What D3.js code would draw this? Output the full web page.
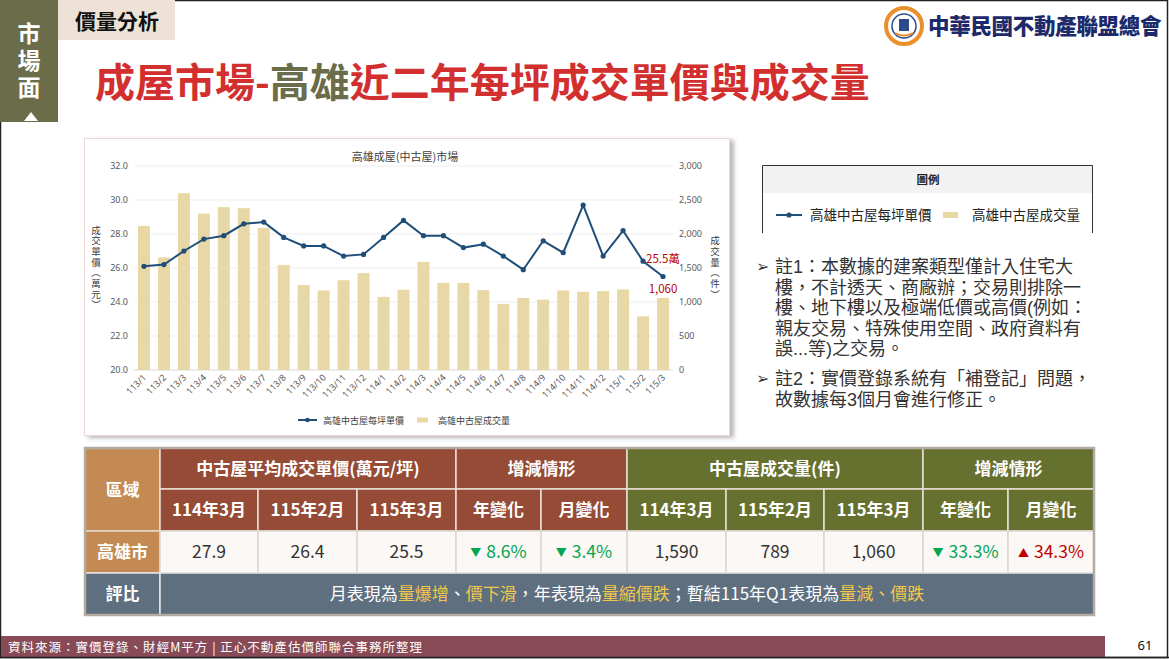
<!DOCTYPE html>
<html>
<head>
<meta charset="utf-8">
<script src="https://cdn.jsdelivr.net/npm/d3@7/dist/d3.min.js"></script>
<style>
  html, body { margin: 0; padding: 0; background: #fff; }
  svg { display: block; font-family: "Noto Sans CJK TC", "Noto Sans", sans-serif; }
  .vert { writing-mode: vertical-rl; text-orientation: upright; }
</style>
</head>
<body>
<svg id="slide" width="1169" height="659"></svg>
<script>
// monthly data
var months = ['113/1','113/2','113/3','113/4','113/5','113/6','113/7','113/8','113/9','113/10','113/11','113/12',
              '114/1','114/2','114/3','114/4','114/5','114/6','114/7','114/8','114/9','114/10','114/11','114/12',
              '115/1','115/2','115/3'];
var unitPrice = [26.1, 26.2, 27.0, 27.7, 27.9, 28.6, 28.7, 27.8, 27.3, 27.3, 26.7, 26.8,
                 27.8, 28.8, 27.9, 27.9, 27.2, 27.4, 26.7, 25.9, 27.6, 26.9, 29.7, 26.7,
                 28.2, 26.4, 25.5];
var volume = [2120, 1655, 2600, 2300, 2395, 2380, 2090, 1545, 1250, 1170, 1320, 1425,
              1075, 1180, 1590, 1280, 1280, 1175, 970, 1060, 1035, 1170, 1150, 1160,
              1185, 789, 1060];
var priceTicks = [20, 22, 24, 26, 28, 30, 32];
var volumeTicks = [0, 500, 1000, 1500, 2000, 2500, 3000];

// table: which months are compared
var compareLabels = ['114年3月', '115年2月', '115年3月'];
var compareIdx = [14, 25, 26];
var seriesNames = ['高雄中古屋每坪單價', '高雄中古屋成交量'];
var notes = [
  ['註1：本數據的建案類型僅計入住宅大', '樓，不計透天、商廠辦；交易則排除一', '樓、地下樓以及極端低價或高價(例如：',
   '親友交易、特殊使用空間、政府資料有', '誤...等)之交易。'],
  ['註2：實價登錄系統有「補登記」問題，', '故數據每3個月會進行修正。']
];

var C = {
  bar: '#e8d8a6', line: '#1f4e79', red: '#c00000', green: '#00a651',
  brown: '#954b35', olive: '#66702f', tan: '#c38a53', slate: '#5e6f80',
  side: '#6b6d4a', hilite: '#f3c84a', footer: '#874a56'
};

var svg = d3.select('#slide');

// ---------- slide frame / header ----------
svg.append('rect').attr('x', 0.5).attr('y', 0.5).attr('width', 1167).attr('height', 657)
  .attr('fill', '#fff').attr('stroke', '#222').attr('stroke-width', 1.5);

svg.append('rect').attr('x', 0).attr('y', 0).attr('width', 58).attr('height', 122).attr('fill', C.side);
svg.append('text').attr('class', 'vert').attr('x', 29).attr('y', 62).attr('text-anchor', 'middle')
  .attr('font-size', 23).attr('font-weight', 700).attr('fill', '#fff').attr('letter-spacing', 4).text('市場面');
svg.append('path').attr('d', 'M24,121 L31,112 L38,121 Z').attr('fill', '#fff');

svg.append('rect').attr('x', 58).attr('y', 0).attr('width', 117).attr('height', 40).attr('fill', '#ede2d5');
svg.append('text').attr('x', 75).attr('y', 29).attr('font-size', 21).attr('font-weight', 700)
  .attr('fill', '#111').text('價量分析');

var title = svg.append('text').attr('x', 95).attr('y', 97).attr('font-size', 40).attr('font-weight', 700);
title.append('tspan').attr('fill', '#d22f2f').text('成屋市場-');
title.append('tspan').attr('fill', C.side).text('高雄');
title.append('tspan').attr('fill', '#d22f2f').text('近二年每坪成交單價與成交量');

// logo
var logo = svg.append('g').attr('transform', 'translate(904,26)');
logo.append('circle').attr('r', 18).attr('fill', '#fff').attr('stroke', '#e98f2b').attr('stroke-width', 4);
logo.append('circle').attr('r', 12).attr('fill', '#fff').attr('stroke', '#2d4a8a').attr('stroke-width', 1.5);
logo.append('rect').attr('x', -5).attr('y', -7).attr('width', 10).attr('height', 12).attr('fill', '#2d4a8a');
logo.append('path').attr('d', 'M-9,7 Q0,12 9,7').attr('fill', 'none').attr('stroke', '#e98f2b').attr('stroke-width', 2);
svg.append('text').attr('x', 928).attr('y', 34).attr('font-size', 21.5).attr('font-weight', 900)
  .attr('fill', '#1c2a6b').attr('letter-spacing', -0.3).text('中華民國不動產聯盟總會');

// ---------- chart ----------
var defs = svg.append('defs');
var sh = defs.append('filter').attr('id', 'shadow').attr('x', '-5%').attr('y', '-5%').attr('width', '115%').attr('height', '115%');
sh.append('feDropShadow').attr('dx', 4).attr('dy', 2).attr('stdDeviation', 2).attr('flood-color', '#888').attr('flood-opacity', 0.6);

svg.append('rect').attr('x', 84.5).attr('y', 138.5).attr('width', 645).attr('height', 297)
  .attr('fill', '#fff').attr('stroke', '#f1d6d6').attr('filter', 'url(#shadow)');

var plot = { left: 134, right: 673, top: 166, bottom: 370 };

var x = d3.scaleBand().domain(months).range([plot.left, plot.right]).paddingInner(0.4).paddingOuter(0.2);
var yL = d3.scaleLinear().domain([20, 32]).range([plot.bottom, plot.top]);
var yR = d3.scaleLinear().domain([0, 3000]).range([plot.bottom, plot.top]);

var chart = svg.append('g');

chart.append('text').attr('x', 405).attr('y', 161).attr('text-anchor', 'middle')
  .attr('font-size', 11).attr('fill', '#404040').text('高雄成屋(中古屋)市場');

// gridlines
chart.append('g').selectAll('line').data(priceTicks).join('line')
  .attr('x1', plot.left).attr('x2', plot.right)
  .attr('y1', function(d) { return yL(d); }).attr('y2', function(d) { return yL(d); })
  .attr('stroke', function(d) { return d === 20 ? '#d9d9d9' : '#eeeeee'; }).attr('stroke-width', 1);

// left axis
var axL = chart.append('g').attr('transform', 'translate(' + plot.left + ',0)')
  .call(d3.axisLeft(yL).tickValues(priceTicks).tickFormat(d3.format('.1f')).tickSize(0).tickPadding(6));
axL.select('.domain').remove();
axL.selectAll('text').attr('font-size', 9).attr('fill', '#595959').attr('font-family', '"Noto Sans", sans-serif');

// right axis
var axR = chart.append('g').attr('transform', 'translate(' + plot.right + ',0)')
  .call(d3.axisRight(yR).tickValues(volumeTicks).tickFormat(d3.format(',')).tickSize(0).tickPadding(6));
axR.select('.domain').remove();
axR.selectAll('text').attr('font-size', 9).attr('fill', '#595959').attr('font-family', '"Noto Sans", sans-serif');

// vertical axis titles
chart.append('text').attr('class', 'vert').attr('x', 96).attr('y', 268).attr('text-anchor', 'middle')
  .attr('font-size', 9.5).attr('letter-spacing', 1.2).attr('fill', '#404040').text('成交單價（萬元）');
chart.append('text').attr('class', 'vert').attr('x', 715).attr('y', 268).attr('text-anchor', 'middle')
  .attr('font-size', 9.5).attr('letter-spacing', 1.2).attr('fill', '#404040').text('成交量（件）');

// bars
chart.append('g').selectAll('rect').data(volume).join('rect')
  .attr('x', function(d, i) { return x(months[i]); })
  .attr('y', function(d) { return yR(d); })
  .attr('width', x.bandwidth())
  .attr('height', function(d) { return yR(0) - yR(d); })
  .attr('fill', C.bar);

// price line
var cx = function(i) { return x(months[i]) + x.bandwidth() / 2; };
var line = d3.line().x(function(d, i) { return cx(i); }).y(function(d) { return yL(d); });
chart.append('path').datum(unitPrice).attr('d', line)
  .attr('fill', 'none').attr('stroke', C.line).attr('stroke-width', 2);
chart.append('g').selectAll('circle').data(unitPrice).join('circle')
  .attr('cx', function(d, i) { return cx(i); }).attr('cy', function(d) { return yL(d); })
  .attr('r', 2.6).attr('fill', C.line);

// x labels
chart.append('g').selectAll('text').data(months).join('text')
  .attr('transform', function(d, i) { return 'translate(' + (cx(i) + 3) + ',' + (plot.bottom + 8) + ') rotate(-45)'; })
  .attr('text-anchor', 'end').attr('font-size', 9).attr('fill', '#595959')
  .attr('font-family', '"Noto Sans", sans-serif').text(function(d) { return d; });

// last point labels
var last = months.length - 1;
chart.append('text').attr('x', cx(last)).attr('y', yL(unitPrice[last]) - 14).attr('text-anchor', 'middle')
  .attr('font-size', 11.5).attr('fill', C.red).text(unitPrice[last].toFixed(1) + '萬');
chart.append('text').attr('x', cx(last)).attr('y', yR(volume[last]) - 5).attr('text-anchor', 'middle')
  .attr('font-size', 11.5).attr('fill', C.red).text(d3.format(',')(volume[last]));

// bottom legend
var lg = chart.append('g').attr('transform', 'translate(0,420)');
lg.append('line').attr('x1', 298).attr('x2', 317).attr('stroke', C.line).attr('stroke-width', 2);
lg.append('circle').attr('cx', 307.5).attr('r', 2.3).attr('fill', C.line);
lg.append('text').attr('x', 323).attr('y', 3.5).attr('font-size', 9).attr('fill', '#404040').text(seriesNames[0]);
lg.append('rect').attr('x', 417).attr('y', -2.5).attr('width', 11).attr('height', 5).attr('fill', C.bar);
lg.append('text').attr('x', 438).attr('y', 3.5).attr('font-size', 9).attr('fill', '#404040').text(seriesNames[1]);

// ---------- legend box ----------
svg.append('rect').attr('x', 762).attr('y', 165).attr('width', 331).attr('height', 28).attr('fill', '#f2f2f2');
svg.append('path').attr('d', 'M762.5,233 V165.5 H1092.5 V233').attr('fill', 'none').attr('stroke', '#333').attr('stroke-width', 1);
svg.append('text').attr('x', 928).attr('y', 184).attr('text-anchor', 'middle').attr('font-size', 11.5)
  .attr('font-weight', 700).attr('fill', '#222').text('圖例');
var lb = svg.append('g').attr('transform', 'translate(0,215)');
lb.append('line').attr('x1', 776).attr('x2', 802).attr('stroke', C.line).attr('stroke-width', 2);
lb.append('circle').attr('cx', 789).attr('r', 2.6).attr('fill', C.line);
lb.append('text').attr('x', 810).attr('y', 5).attr('font-size', 13.5).attr('fill', '#222').text(seriesNames[0]);
lb.append('rect').attr('x', 943).attr('y', -3).attr('width', 15).attr('height', 6).attr('fill', C.bar);
lb.append('text').attr('x', 972).attr('y', 5).attr('font-size', 13.5).attr('fill', '#222').text(seriesNames[1]);

// ---------- notes ----------
// a latin face first keeps each line's box inside the tight 20.5px leading; CJK falls back to Noto
var noteY = 273;
notes.forEach(function(block) {
  svg.append('text').attr('x', 756).attr('y', noteY - 1).attr('font-size', 16).attr('fill', '#333').text('➢');
  var t = svg.append('text').attr('x', 775).attr('y', noteY).attr('font-size', 18).attr('fill', '#333')
    .attr('font-family', '"Liberation Sans", "Noto Sans CJK TC", sans-serif');
  block.forEach(function(ln, i) {
    t.append('tspan').attr('x', 775).attr('dy', i === 0 ? 0 : 20.5).text(ln);
  });
  noteY += block.length * 20.5 + 9.5;
});

// ---------- table ----------
var colX = [85, 160, 258, 357, 456, 541, 627, 726, 824, 923, 1008, 1094];
var rowY = [448, 489, 531, 573, 615];
var tbl = svg.append('g');

function cell(c0, c1, r0, r1, fill, stroke) {
  tbl.append('rect').attr('x', colX[c0]).attr('y', rowY[r0])
    .attr('width', colX[c1] - colX[c0]).attr('height', rowY[r1] - rowY[r0])
    .attr('fill', fill).attr('stroke', stroke || '#e9dfd8').attr('stroke-width', 1.5);
}
function label(c0, c1, r, txt, opts) {
  opts = opts || {};
  return tbl.append('text').attr('x', (colX[c0] + colX[c1]) / 2).attr('y', (rowY[r] + rowY[r + 1]) / 2 + 6)
    .attr('text-anchor', 'middle').attr('font-size', opts.size || 17)
    .attr('font-weight', opts.bold ? 700 : 400).attr('fill', opts.fill || '#fff').text(txt);
}

// header
cell(0, 1, 0, 2, C.tan);
label(0, 1, 0, '區域', { bold: true }).attr('y', (rowY[0] + rowY[2]) / 2 + 6);
cell(1, 4, 0, 1, C.brown); label(1, 4, 0, '中古屋平均成交單價(萬元/坪)', { bold: true });
cell(4, 6, 0, 1, C.brown); label(4, 6, 0, '增減情形', { bold: true });
cell(6, 9, 0, 1, C.olive); label(6, 9, 0, '中古屋成交量(件)', { bold: true });
cell(9, 11, 0, 1, C.olive); label(9, 11, 0, '增減情形', { bold: true });
var sub = compareLabels.concat(['年變化', '月變化']);
sub.concat(sub).forEach(function(t, i) {
  var fill = i < 5 ? C.brown : C.olive;
  cell(i + 1, i + 2, 1, 2, fill);
  label(i + 1, i + 2, 1, t, { bold: true });
});

// data row
cell(0, 1, 2, 3, C.tan, '#e6d8cc');
label(0, 1, 2, '高雄市', { bold: true });

function changeCell(col, v) {
  var up = v >= 0;
  var t = label(col, col + 1, 2, '', { fill: up ? C.red : C.green, size: 17.5 });
  t.append('tspan').attr('font-size', 11).attr('dy', -1.5).text(up ? '▲' : '▼');
  t.append('tspan').attr('dx', 5).attr('dy', 1.5).text(Math.abs(v * 100).toFixed(1) + '%');
}

var pVals = compareIdx.map(function(i) { return unitPrice[i]; });
var vVals = compareIdx.map(function(i) { return volume[i]; });
pVals.forEach(function(v, i) {
  cell(i + 1, i + 2, 2, 3, '#fcf8f5', '#ddd5d0');
  label(i + 1, i + 2, 2, v.toFixed(1), { fill: '#333', size: 17.5 });
});
vVals.forEach(function(v, i) {
  cell(i + 6, i + 7, 2, 3, '#fcf8f5', '#ddd5d0');
  label(i + 6, i + 7, 2, d3.format(',')(v), { fill: '#333', size: 17.5 });
});
[4, 5, 9, 10].forEach(function(c) { cell(c, c + 1, 2, 3, '#fcf8f5', '#ddd5d0'); });
changeCell(4, pVals[2] / pVals[0] - 1);
changeCell(5, pVals[2] / pVals[1] - 1);
changeCell(9, vVals[2] / vVals[0] - 1);
changeCell(10, vVals[2] / vVals[1] - 1);

// comment row
cell(0, 1, 3, 4, C.slate, '#e6e6e6');
label(0, 1, 3, '評比', { bold: true });
cell(1, 11, 3, 4, C.slate, '#e6e6e6');
var cm = label(1, 11, 3, '', {});
[['月表現為', 0], ['量爆增', 1], ['、', 0], ['價下滑', 1], ['，年表現為', 0], ['量縮價跌', 1],
 ['；暫結115年Q1表現為', 0], ['量減、價跌', 1]].forEach(function(p) {
  cm.append('tspan').attr('fill', p[1] ? C.hilite : '#fff').text(p[0]);
});

// outer border
tbl.append('rect').attr('x', 85).attr('y', 448).attr('width', 1009).attr('height', 167)
  .attr('fill', 'none').attr('stroke', '#b3aba2').attr('stroke-width', 2.5);

// ---------- footer ----------
svg.append('rect').attr('x', 1).attr('y', 636).attr('width', 1104).attr('height', 21).attr('fill', C.footer);
svg.append('text').attr('x', 8).attr('y', 651.5).attr('font-size', 12.5).attr('fill', '#fff')
  .attr('textLength', 414).attr('lengthAdjust', 'spacing')
  .text('資料來源：實價登錄、財經M平方 | 正心不動產估價師聯合事務所整理');
svg.append('text').attr('x', 1145).attr('y', 650).attr('text-anchor', 'middle').attr('font-size', 13)
  .attr('fill', '#111').attr('font-family', '"Liberation Sans Narrow", "Noto Sans", sans-serif').text('61');
svg.append('line').attr('x1', 0).attr('x2', 1169).attr('y1', 657.5).attr('y2', 657.5).attr('stroke', '#222').attr('stroke-width', 1.5);
</script>
</body>
</html>
